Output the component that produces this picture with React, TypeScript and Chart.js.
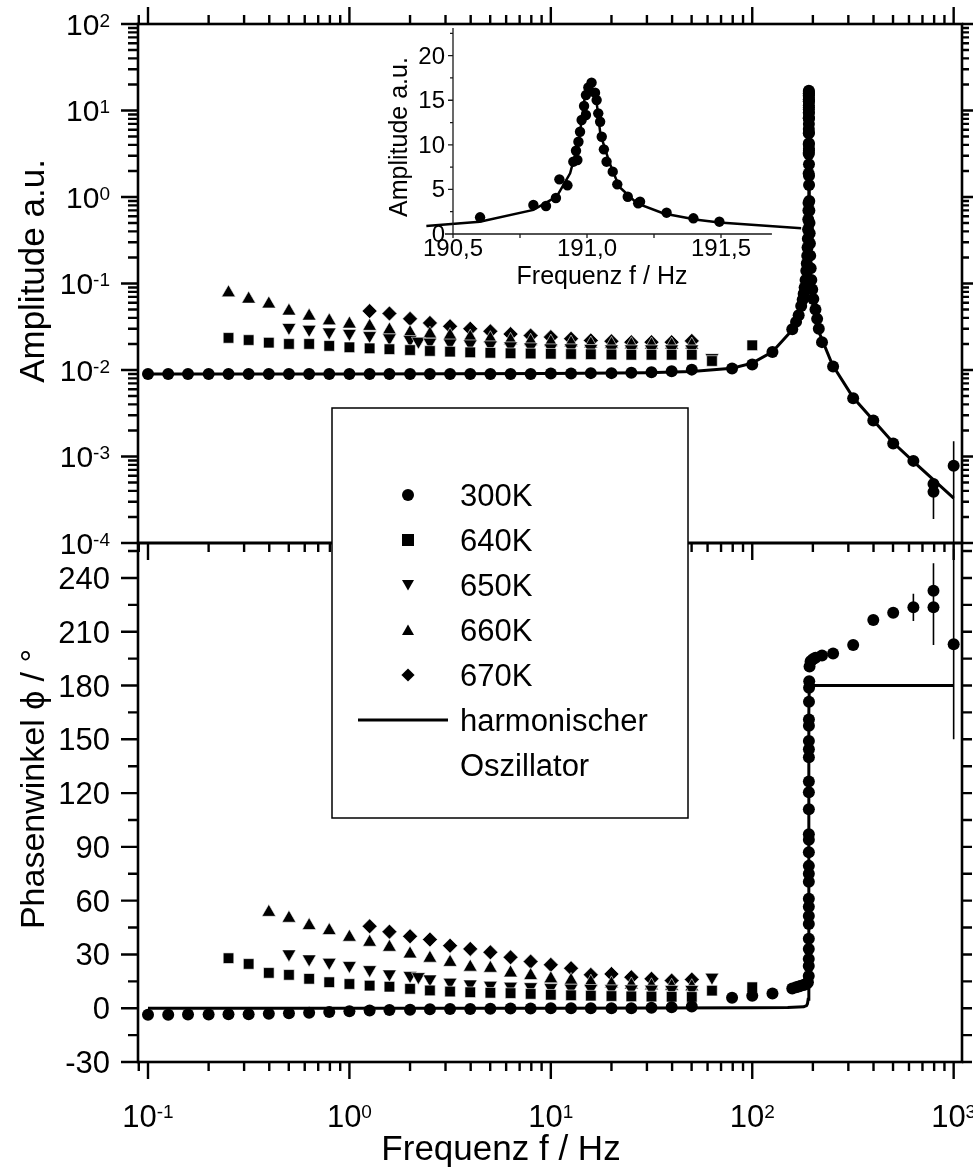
import React, { useEffect, useRef } from 'react';
import { Chart, registerables } from 'chart.js';

Chart.register(...registerables);

const FONT = '"Liberation Sans", Arial, Helvetica, sans-serif';

// ---------- axis ranges ----------
const X_MIN = 0.0892;
const X_MAX = 1100;
const AMP_MIN = 1e-4;
const AMP_MAX = 1e2;
const PH_MIN = -30;
const PH_MAX = 259.5;
const INSET_X_MIN = 190.4;
const INSET_X_MAX = 191.8;
const INSET_Y_MAX = 23.1;

// ---------- tick labels ----------
const ampExponents = ['2', '1', '0', '-1', '-2', '-3', '-4'];
const freqExponents = ['-1', '0', '1', '2', '3'];
const phaseTicks = [-30, 0, 30, 60, 90, 120, 150, 180, 210, 240];
const insetXTicks = [190.5, 191.0, 191.5];
const insetXTickLabels = ['190,5', '191,0', '191,5'];
const insetYTicks = [0, 5, 10, 15, 20];

// ---------- legend ----------
const legendLabels = ['300K', '640K', '650K', '660K', '670K'];
const legendShapes = ['circle', 'square', 'down', 'up', 'diamond'];
const fitLabel = ['harmonischer', 'Oszillator'];

// ---------- 300 K: amplitude ----------
const f300 = [0.1, 0.126, 0.158, 0.2, 0.251, 0.316, 0.398, 0.501, 0.631, 0.794, 1, 1.26, 1.58, 2, 2.51, 3.16, 3.98, 5.01, 6.31, 7.94, 10, 12.6, 15.8, 20, 25.1, 31.6, 39.8, 50.1, 79.4, 100, 126, 158];
const amp300 = [0.009, 0.009, 0.009, 0.009, 0.009, 0.009, 0.009, 0.009, 0.009, 0.009, 0.009, 0.009, 0.009, 0.009, 0.009, 0.009, 0.009, 0.009, 0.009, 0.009, 0.0091, 0.0091, 0.0092, 0.0092, 0.0093, 0.0094, 0.0097, 0.0101, 0.0104, 0.0116, 0.0161, 0.0295];

const fWingLow = [165, 170, 175, 178, 180, 182, 184, 185.5, 186.5, 187.5, 188.2, 188.8, 189.3, 189.7, 190.0, 190.3];
const ampWingLow = [0.036, 0.043, 0.055, 0.065, 0.076, 0.09, 0.11, 0.14, 0.17, 0.21, 0.26, 0.33, 0.42, 0.55, 0.7, 0.85];

// resonance window (also shown in the inset)
const fInset = [190.601, 190.8, 190.847, 190.884, 190.897, 190.927, 190.949, 190.964, 190.959, 190.968, 190.974, 190.98, 190.996, 190.989, 190.996, 191.005, 191.017, 191.03, 191.036, 191.042, 191.049, 191.055, 191.063, 191.073, 191.096, 191.113, 191.152, 191.191, 191.198, 191.297, 191.397, 191.494];
const ampInset = [1.87, 3.25, 3.14, 4.04, 6.13, 5.46, 8.11, 8.3, 9.34, 10.35, 11.47, 12.78, 13.34, 14.35, 15.58, 16.44, 16.97, 15.84, 15.02, 13.53, 12.59, 10.91, 9.49, 8.11, 6.99, 5.57, 4.18, 3.44, 3.62, 2.39, 1.76, 1.38];

const fWingHigh = [191.9, 192.1, 192.4, 192.8, 193.3, 194, 195, 196.5, 198.5, 201, 206, 210, 214, 222, 252, 317, 399, 501, 631, 794, 794, 1000];
const ampWingHigh = [0.9, 0.7, 0.5, 0.38, 0.29, 0.21, 0.15, 0.11, 0.085, 0.066, 0.05, 0.039, 0.03, 0.021, 0.011, 0.0047, 0.0026, 0.00141, 0.00089, 0.00048, 0.00039, 0.00078];

// ---------- 640 K .. 670 K: amplitude ----------
const f640 = [0.251, 0.316, 0.398, 0.501, 0.631, 0.794, 1, 1.26, 1.58, 2, 2.51, 3.16, 3.98, 5.01, 6.31, 7.94, 10, 12.6, 15.8, 20, 25.1, 31.6, 39.8, 50.1, 63.1, 100];
const amp640 = [0.0235, 0.0222, 0.0207, 0.02, 0.02, 0.019, 0.0183, 0.0178, 0.0174, 0.017, 0.0166, 0.0163, 0.016, 0.0158, 0.0156, 0.0155, 0.0154, 0.0153, 0.0152, 0.0151, 0.015, 0.015, 0.015, 0.015, 0.0127, 0.0193];

const f650 = [0.501, 0.631, 0.794, 1, 1.26, 1.58, 2, 2.2, 2.51, 3.16, 3.98, 5.01, 6.31, 7.94, 10, 12.6, 15.8, 20, 25.1, 31.6, 39.8, 50.1, 63.1];
const amp650 = [0.031, 0.0295, 0.0275, 0.0265, 0.025, 0.0235, 0.0225, 0.0215, 0.021, 0.0205, 0.02, 0.0195, 0.019, 0.0185, 0.018, 0.018, 0.0177, 0.0175, 0.0175, 0.0175, 0.0175, 0.0175, 0.0139];

const f660 = [0.251, 0.316, 0.398, 0.501, 0.631, 0.794, 1, 1.26, 1.58, 2, 2.51, 3.16, 3.98, 5.01, 6.31, 7.94, 10, 12.6, 15.8, 20, 25.1, 31.6, 39.8, 50.1];
const amp660 = [0.078, 0.066, 0.058, 0.048, 0.042, 0.037, 0.034, 0.032, 0.029, 0.027, 0.026, 0.025, 0.024, 0.023, 0.022, 0.0215, 0.021, 0.0205, 0.02, 0.0198, 0.0196, 0.0195, 0.0194, 0.0194];

const f670 = [1.26, 1.58, 2, 2.51, 3.16, 3.98, 5.01, 6.31, 7.94, 10, 12.6, 15.8, 20, 25.1, 31.6, 39.8, 50.1];
const amp670 = [0.048, 0.045, 0.039, 0.035, 0.032, 0.03, 0.028, 0.026, 0.025, 0.024, 0.023, 0.022, 0.0215, 0.021, 0.021, 0.021, 0.0217];

// ---------- phase ----------
const ph300 = [-3.6, -3.6, -3.5, -3.5, -3.4, -3.3, -3.1, -2.8, -2.5, -2.1, -1.7, -1.3, -1.0, -0.8, -0.6, -0.5, -0.4, -0.3, -0.2, -0.1, 0, 0, 0, 0, 0, 0.2, 0.5, 1.0, 5.8, 7.0, 8.2, 11.0];

const fPhRes = [165, 170, 175, 180, 184, 187, 189, 190.75, 190.8, 190.84, 190.87, 190.9, 190.93, 190.94, 190.95, 190.96, 190.975, 190.98, 190.99, 191.0, 191.01, 191.015, 191.03, 191.04, 191.05, 191.08, 191.09, 191.1, 191.15, 191.18, 191.3, 191.5, 191.8, 192.5, 195, 200, 206, 222, 252, 317, 399, 501, 631, 794, 794, 1000];
const phRes = [11.7, 12.1, 12.6, 13.0, 13.3, 13.8, 14.5, 18, 23.6, 27.5, 33, 38.7, 47, 51.5, 56.6, 61, 70.6, 75, 79.4, 87, 94, 97, 111, 120.5, 126.5, 140, 144.5, 149, 157.5, 161, 171, 178.8, 182.4, 190.6, 193.5, 194.6, 195.5, 196.8, 197.9, 202.6, 216.6, 220.6, 223.6, 223.6, 232.9, 203];

const ph640 = [27.9, 24.7, 19.7, 18.6, 16.4, 14.5, 13.5, 12.6, 12.0, 10.8, 9.9, 9.3, 8.9, 8.6, 8.4, 8.0, 7.5, 7.2, 7.0, 6.8, 6.6, 6.5, 6.4, 6.3, 9.8, 11.7];
const ph650 = [30.3, 27.5, 25.6, 23.8, 21.5, 19.1, 18.2, 17.6, 16.3, 14.5, 13.5, 12.8, 12.3, 12.0, 11.5, 11.2, 11.0, 10.8, 10.7, 10.6, 10.5, 10.5, 17.3];
const f660Ph = [0.398, 0.501, 0.631, 0.794, 1, 1.26, 1.58, 2, 2.51, 3.16, 3.98, 5.01, 6.31, 7.94, 10, 12.6, 15.8, 20, 25.1, 31.6, 39.8, 50.1];
const ph660 = [53.5, 50.2, 46.1, 43.3, 39.6, 36.8, 34.0, 30.3, 27.9, 25.6, 22.9, 22.3, 19.7, 18.2, 16.4, 15.5, 14.5, 13.6, 13.0, 12.5, 12.2, 12.0];
const ph670 = [45.7, 42.7, 40.1, 38.3, 34.9, 33.1, 31.2, 28.4, 26.0, 24.2, 22.3, 18.6, 19.1, 17.3, 16.4, 15.4, 16.0];

// ---------- error bars (lower / upper bounds) ----------
const errAmpF = [794, 1000];
const errAmpLo = [0.00019, 0.00001];
const errAmpHi = [0.00055, 0.0015];
const errPhF = [501, 631, 794, 794, 1000];
const errPhLo = [217.6, 216.0, 202.6, 217.6, 150];
const errPhHi = [223.6, 231.2, 244.6, 248.2, 256];

// ---------- harmonic oscillator curves ----------
const fFitAmp = [0.1, 1, 10, 30, 50, 79.4, 100, 126, 158, 170, 180, 185, 188, 190, 190.5, 190.8, 190.95, 191.01, 191.07, 191.2, 191.5, 192, 195, 200, 210, 250, 317, 400, 500, 630, 800, 1000];
const ampFit = [0.009, 0.009, 0.0091, 0.0093, 0.0096, 0.0105, 0.012, 0.0162, 0.029, 0.043, 0.078, 0.15, 0.3, 0.85, 1.6, 3.4, 9, 16.7, 9.5, 3.5, 1.2, 0.55, 0.13, 0.058, 0.031, 0.0115, 0.0048, 0.0026, 0.00145, 0.00088, 0.00053, 0.00033];
const fFitPh = [0.1, 10, 100, 150, 180, 186, 188, 189.5, 190.5, 190.9, 191.0, 191.1, 191.3, 192, 1000];
const phFit = [0, 0, 0.2, 0.4, 0.8, 1.5, 2.5, 5, 20, 60, 90, 120, 165, 180, 180];
const fFitInset = [190.4, 190.6, 190.8, 190.887, 190.937, 190.97, 190.99, 191.012, 191.035, 191.05, 191.085, 191.12, 191.187, 191.286, 191.41, 191.494, 191.8];
const ampFitInset = [0.9, 1.38, 2.7, 4.2, 6.8, 10.5, 15, 16.7, 15, 11.2, 7.9, 5.3, 3.44, 2.3, 1.6, 1.3, 0.64];

const pts = (xs: number[], ys: number[]) => xs.map((x, i) => ({ x, y: ys[i] }));

const hiddenScale = {
  display: true,
  ticks: { display: false },
  grid: { display: false, drawTicks: false },
  border: { display: false },
};

function drawPow10(ctx: CanvasRenderingContext2D, exp: string, x: number, baseline: number, align: 'right' | 'center', big: number, small: number) {
  ctx.font = `${big}px ${FONT}`;
  const w1 = ctx.measureText('10').width;
  ctx.font = `${small}px ${FONT}`;
  const w2 = ctx.measureText(exp).width;
  const total = w1 + w2;
  const start = align === 'right' ? x - total : x - total / 2;
  ctx.textAlign = 'left';
  ctx.textBaseline = 'alphabetic';
  ctx.font = `${big}px ${FONT}`;
  ctx.fillText('10', start, baseline);
  ctx.font = `${small}px ${FONT}`;
  ctx.fillText(exp, start + w1, baseline - 0.716 * big + 0.716 * small);
}

function drawRotated(ctx: CanvasRenderingContext2D, text: string, x: number, y: number, size: number) {
  ctx.save();
  ctx.translate(x, y);
  ctx.rotate(-Math.PI / 2);
  ctx.font = `${size}px ${FONT}`;
  ctx.textAlign = 'center';
  ctx.textBaseline = 'alphabetic';
  ctx.fillText(text, 0, 0);
  ctx.restore();
}

function drawShape(ctx: CanvasRenderingContext2D, shape: string, x: number, y: number, r: number) {
  ctx.beginPath();
  if (shape === 'circle') ctx.arc(x, y, r, 0, Math.PI * 2);
  else if (shape === 'square') ctx.rect(x - r, y - r, 2 * r, 2 * r);
  else if (shape === 'down') {
    ctx.moveTo(x - r, y - r * 0.85);
    ctx.lineTo(x + r, y - r * 0.85);
    ctx.lineTo(x, y + r * 0.9);
  } else if (shape === 'up') {
    ctx.moveTo(x - r, y + r * 0.85);
    ctx.lineTo(x + r, y + r * 0.85);
    ctx.lineTo(x, y - r * 0.9);
  } else {
    ctx.moveTo(x, y - r * 1.1);
    ctx.lineTo(x + r * 1.1, y);
    ctx.lineTo(x, y + r * 1.1);
    ctx.lineTo(x - r * 1.1, y);
  }
  ctx.closePath();
  ctx.fill();
}

// frame, ticks, labels, error bars and legend of the two stacked panels
const mainDecor = {
  id: 'mainDecor',
  afterDraw(chart: any) {
    const ctx: CanvasRenderingContext2D = chart.ctx;
    const xs = chart.scales.x;
    const ya = chart.scales.yA;
    const yp = chart.scales.yP;
    const L = xs.getPixelForValue(X_MIN);
    const R = xs.getPixelForValue(X_MAX);
    const aTop = ya.getPixelForValue(AMP_MAX);
    const aBot = ya.getPixelForValue(AMP_MIN);
    const pTop = yp.getPixelForValue(PH_MAX);
    const pBot = yp.getPixelForValue(PH_MIN);

    ctx.save();
    ctx.strokeStyle = '#000';
    ctx.fillStyle = '#000';

    // error bars
    ctx.lineWidth = 1.6;
    ctx.save();
    ctx.beginPath();
    ctx.rect(L, aTop, R - L, aBot - aTop);
    ctx.clip();
    ctx.beginPath();
    errAmpF.forEach((f, i) => {
      const x = xs.getPixelForValue(f);
      ctx.moveTo(x, ya.getPixelForValue(errAmpLo[i]));
      ctx.lineTo(x, ya.getPixelForValue(errAmpHi[i]));
    });
    ctx.stroke();
    ctx.restore();
    ctx.save();
    ctx.beginPath();
    ctx.rect(L, pTop, R - L, pBot - pTop);
    ctx.clip();
    ctx.beginPath();
    errPhF.forEach((f, i) => {
      const x = xs.getPixelForValue(f);
      ctx.moveTo(x, yp.getPixelForValue(errPhLo[i]));
      ctx.lineTo(x, yp.getPixelForValue(errPhHi[i]));
    });
    ctx.stroke();
    ctx.restore();

    // frames
    ctx.lineWidth = 2.6;
    ctx.strokeRect(L, aTop, R - L, aBot - aTop);
    ctx.strokeRect(L, pTop, R - L, pBot - pTop);

    // ticks
    ctx.lineWidth = 2.4;
    ctx.beginPath();
    for (let e = -2; e <= 3; e++) {
      for (let m = 1; m <= 9; m++) {
        const v = m * Math.pow(10, e);
        if (v < X_MIN || v > X_MAX) continue;
        const x = xs.getPixelForValue(v);
        const len = m === 1 ? 17 : 9;
        ctx.moveTo(x, aTop); ctx.lineTo(x, aTop - len);
        ctx.moveTo(x, aBot); ctx.lineTo(x, aBot + len);
        ctx.moveTo(x, pBot); ctx.lineTo(x, pBot + len);
      }
    }
    for (let e = -4; e <= 2; e++) {
      for (let m = 1; m <= 9; m++) {
        const v = m * Math.pow(10, e);
        if (v > AMP_MAX * 1.0001) continue;
        const y = ya.getPixelForValue(v);
        ctx.moveTo(L, y); ctx.lineTo(L - (m === 1 ? 17 : 10), y);
        ctx.moveTo(R, y); ctx.lineTo(R + (m === 1 ? 11 : 7), y);
      }
    }
    for (let v = PH_MIN; v <= PH_MAX; v += 15) {
      const y = yp.getPixelForValue(v);
      const major = v % 30 === 0;
      ctx.moveTo(L, y); ctx.lineTo(L - (major ? 17 : 10), y);
      ctx.moveTo(R, y); ctx.lineTo(R + 10, y);
    }
    ctx.stroke();

    // tick labels
    ampExponents.forEach((exp) => {
      const y = ya.getPixelForValue(Math.pow(10, Number(exp)));
      drawPow10(ctx, exp, 110, y + 10.5, 'right', 30, 19);
    });
    ctx.font = `31px ${FONT}`;
    ctx.textAlign = 'right';
    ctx.textBaseline = 'alphabetic';
    phaseTicks.forEach((v) => ctx.fillText(String(v), 110, yp.getPixelForValue(v) + 11));
    freqExponents.forEach((exp) => {
      drawPow10(ctx, exp, xs.getPixelForValue(Math.pow(10, Number(exp))), pBot + 65, 'center', 31, 19);
    });

    // axis titles
    ctx.font = `35px ${FONT}`;
    ctx.textAlign = 'center';
    ctx.fillText('Frequenz f / Hz', 501, 1160);
    drawRotated(ctx, 'Amplitude a.u.', 44, 271, 35);
    drawRotated(ctx, 'Phasenwinkel \u03D5 / \u00B0', 44, 789, 34);

    // legend
    const lx = 332, ly = 408, lw = 356, lh = 410;
    ctx.fillStyle = '#fff';
    ctx.fillRect(lx, ly, lw, lh);
    ctx.lineWidth = 1.5;
    ctx.strokeRect(lx, ly, lw, lh);
    ctx.fillStyle = '#000';
    ctx.font = `31px ${FONT}`;
    ctx.textAlign = 'left';
    legendLabels.forEach((label, i) => {
      const y = 495 + 45 * i;
      drawShape(ctx, legendShapes[i], 408, y, 6);
      ctx.fillText(label, 460, y + 11);
    });
    ctx.lineWidth = 3;
    ctx.beginPath();
    ctx.moveTo(358, 720);
    ctx.lineTo(448, 720);
    ctx.stroke();
    ctx.fillText(fitLabel[0], 460, 720 + 11);
    ctx.fillText(fitLabel[1], 460, 765 + 11);

    ctx.restore();
  },
};

// axes and labels of the inset
const insetDecor = {
  id: 'insetDecor',
  afterDraw(chart: any) {
    const ctx: CanvasRenderingContext2D = chart.ctx;
    const xs = chart.scales.x;
    const ys = chart.scales.y;
    const x0 = xs.getPixelForValue(190.5);
    const y0 = ys.getPixelForValue(0);
    const yTop = ys.getPixelForValue(INSET_Y_MAX);
    ctx.save();
    ctx.strokeStyle = '#1a1a1a';
    ctx.fillStyle = '#000';
    ctx.lineWidth = 1.3;
    ctx.beginPath();
    ctx.moveTo(x0, yTop); ctx.lineTo(x0, y0 + 4);
    ctx.moveTo(xs.getPixelForValue(190.47), y0); ctx.lineTo(xs.getPixelForValue(191.69), y0);
    for (let v = 190.5; v <= 191.5001; v += 0.25) {
      const x = xs.getPixelForValue(v);
      ctx.moveTo(x, y0); ctx.lineTo(x, y0 + 4);
    }
    for (let v = 0; v <= 22.5001; v += 2.5) {
      const y = ys.getPixelForValue(v);
      ctx.moveTo(x0, y); ctx.lineTo(x0 - (v % 5 === 0 ? 5 : 3), y);
    }
    ctx.stroke();

    ctx.font = `24px ${FONT}`;
    ctx.textBaseline = 'alphabetic';
    ctx.textAlign = 'right';
    insetYTicks.forEach((v) => ctx.fillText(String(v), x0 - 8, ys.getPixelForValue(v) + 8));
    ctx.textAlign = 'center';
    insetXTicks.forEach((v, i) => ctx.fillText(insetXTickLabels[i], xs.getPixelForValue(v), y0 + 22));
    ctx.font = `25px ${FONT}`;
    ctx.fillText('Frequenz f / Hz', 262, 284);
    drawRotated(ctx, 'Amplitude a.u.', 67, 137, 25);
    ctx.restore();
  },
};

const filled = (color: string) => ({ backgroundColor: color, borderColor: color });

export default function App() {
  const mainRef = useRef<HTMLCanvasElement>(null);
  const insetRef = useRef<HTMLCanvasElement>(null);

  useEffect(() => {
    const markerWhite = { borderColor: '#fff', borderWidth: 0.6, backgroundColor: '#000' };
    const main = new Chart(mainRef.current as HTMLCanvasElement, {
      type: 'scatter',
      data: {
        datasets: [
          { label: 'fit amplitude', data: pts(fFitAmp, ampFit), yAxisID: 'yA', showLine: true, pointRadius: 0, borderWidth: 3, ...filled('#000'), order: 1 },
          { label: 'fit phase', data: pts(fFitPh, phFit), yAxisID: 'yP', showLine: true, pointRadius: 0, borderWidth: 3, ...filled('#000'), order: 1 },
          { label: '300K', data: [...pts(f300, amp300), ...pts(fWingLow, ampWingLow), ...pts(fInset, ampInset), ...pts(fWingHigh, ampWingHigh)], yAxisID: 'yA', pointStyle: 'circle', pointRadius: 6, borderWidth: 0, ...filled('#000') },
          { label: '640K', data: pts(f640, amp640), yAxisID: 'yA', pointStyle: 'rect', pointRadius: 7.5, ...markerWhite },
          { label: '650K', data: pts(f650, amp650), yAxisID: 'yA', pointStyle: 'triangle', pointRotation: 180, pointRadius: 8, ...markerWhite },
          { label: '660K', data: pts(f660, amp660), yAxisID: 'yA', pointStyle: 'triangle', pointRadius: 8, ...markerWhite },
          { label: '670K', data: pts(f670, amp670), yAxisID: 'yA', pointStyle: 'rectRot', pointRadius: 7.5, ...markerWhite },
          { label: '300K phase', data: [...pts(f300, ph300), ...pts(fPhRes, phRes)], yAxisID: 'yP', pointStyle: 'circle', pointRadius: 6, borderWidth: 0, ...filled('#000') },
          { label: '640K phase', data: pts(f640, ph640), yAxisID: 'yP', pointStyle: 'rect', pointRadius: 7.5, ...markerWhite },
          { label: '650K phase', data: pts(f650, ph650), yAxisID: 'yP', pointStyle: 'triangle', pointRotation: 180, pointRadius: 8, ...markerWhite },
          { label: '660K phase', data: pts(f660Ph, ph660), yAxisID: 'yP', pointStyle: 'triangle', pointRadius: 8, ...markerWhite },
          { label: '670K phase', data: pts(f670, ph670), yAxisID: 'yP', pointStyle: 'rectRot', pointRadius: 7.5, ...markerWhite },
        ] as any,
      },
      options: {
        responsive: false,
        maintainAspectRatio: false,
        animation: false,
        devicePixelRatio: 1,
        events: [],
        layout: { padding: { left: 138, right: 11, top: 24, bottom: 106 } },
        plugins: { legend: { display: false }, tooltip: { enabled: false } },
        scales: {
          x: { type: 'logarithmic', min: X_MIN, max: X_MAX, ...hiddenScale },
          yA: { type: 'logarithmic', axis: 'y', position: 'left', stack: 'panels', stackWeight: 1, weight: 2, min: AMP_MIN, max: AMP_MAX, ...hiddenScale },
          yP: { type: 'linear', axis: 'y', position: 'left', stack: 'panels', stackWeight: 1, weight: 1, min: PH_MIN, max: PH_MAX, ...hiddenScale },
        } as any,
      },
      plugins: [mainDecor],
    });

    const inset = new Chart(insetRef.current as HTMLCanvasElement, {
      type: 'scatter',
      data: {
        datasets: [
          { label: 'fit', data: pts(fFitInset, ampFitInset), showLine: true, pointRadius: 0, borderWidth: 2.5, ...filled('#000'), order: 1 },
          { label: '300K', data: pts(fInset, ampInset), pointStyle: 'circle', pointRadius: 5.2, borderWidth: 0, ...filled('#000') },
        ] as any,
      },
      options: {
        responsive: false,
        maintainAspectRatio: false,
        animation: false,
        devicePixelRatio: 1,
        events: [],
        layout: { padding: { left: 86.2, right: 28.6, top: 28, bottom: 66 } },
        plugins: { legend: { display: false }, tooltip: { enabled: false } },
        scales: {
          x: { type: 'linear', min: INSET_X_MIN, max: INSET_X_MAX, ...hiddenScale },
          y: { type: 'linear', min: 0, max: INSET_Y_MAX, ...hiddenScale },
        } as any,
      },
      plugins: [insetDecor],
    });

    return () => {
      main.destroy();
      inset.destroy();
    };
  }, []);

  return (
    <div style={{ position: 'absolute', left: 0, top: 0, width: 973, height: 1168, background: '#fff', overflow: 'hidden' }}>
      <canvas ref={mainRef} width={973} height={1168} style={{ position: 'absolute', left: 0, top: 0 }} />
      <canvas ref={insetRef} width={490} height={300} style={{ position: 'absolute', left: 340, top: 0 }} />
    </div>
  );
}
